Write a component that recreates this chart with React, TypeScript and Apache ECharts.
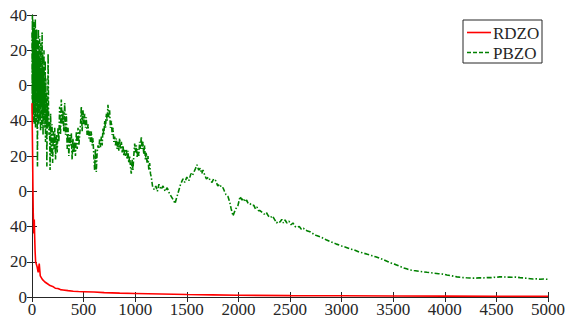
import React, { useEffect, useRef } from "react";
import * as echarts from "echarts";

const xTicks = [0, 500, 1000, 1500, 2000, 2500, 3000, 3500, 4000, 4500, 5000];
const yTickLabels = ["0", "20", "40", "0", "20", "40", "0", "20", "40"];
const seriesNames = ["RDZO", "PBZO"];

// RDZO: [iteration, value]
const rdzo: number[][] = [
  [0, 110], [3, 95], [6, 80], [9, 62], [12, 48], [15, 40], [18, 36], [22, 44], [26, 34], [30, 26],
  [35, 20], [40, 19], [50, 17], [60, 14], [70, 19], [80, 12], [100, 10], [125, 8.5], [150, 7.5],
  [175, 6.5], [200, 6], [225, 5], [250, 4.8], [275, 4.2], [300, 4], [350, 3.6], [400, 3.3], [450, 3.1],
  [500, 3], [600, 2.8], [700, 2.5], [850, 2.2], [1000, 2], [1250, 1.7], [1500, 1.4], [1750, 1.2],
  [2000, 1], [2500, 0.8], [3000, 0.7], [3500, 0.6], [4000, 0.5], [4500, 0.45], [5000, 0.4],
];

// PBZO, early noisy phase
const pbzoEarly: number[][] = [
  [0, 150], [2, 112], [4, 160], [6, 104], [8, 158], [10, 118], [12, 152], [14, 100], [16, 156], [18, 108],
  [20, 148], [22, 98], [24, 155], [26, 112], [28, 145], [30, 102], [32, 158], [34, 96], [36, 150], [38, 110],
  [40, 140], [42, 120], [44, 152], [46, 100], [48, 146], [50, 106], [53, 74], [56, 138], [59, 104], [62, 152],
  [65, 98], [68, 142], [71, 110], [74, 148], [77, 100], [80, 136], [83, 94], [86, 144], [89, 108], [92, 130],
  [95, 96], [98, 150], [101, 102], [104, 138], [107, 92], [110, 128], [113, 100], [116, 140], [119, 106],
  [122, 120], [125, 96], [128, 134], [131, 88], [134, 124], [137, 100], [140, 116], [144, 74], [148, 110],
  [152, 96], [156, 138], [160, 106], [165, 92], [170, 100], [175, 72], [180, 104], [187, 80], [194, 98],
  [200, 76], [207, 94], [214, 84], [220, 96],
];

// PBZO, 200-1200
const pbzoMid: number[][] = [
  [228, 78], [236, 92], [244, 82], [252, 96], [260, 88], [268, 108], [276, 92], [284, 112], [292, 98],
  [300, 106], [308, 94], [317, 110], [325, 92], [333, 104], [341, 84], [349, 96], [357, 80], [365, 92],
  [373, 86], [381, 93], [389, 78], [397, 90], [405, 82], [413, 88], [421, 80], [430, 94], [438, 84],
  [446, 96], [454, 86], [462, 92], [470, 98], [478, 108], [486, 94], [494, 106], [502, 98], [510, 104],
  [518, 96], [526, 102], [534, 92], [543, 98], [551, 90], [559, 94], [567, 88], [575, 94], [583, 86],
  [591, 90], [599, 80], [607, 72], [615, 84], [623, 71], [631, 82], [640, 86], [648, 84], [656, 90],
  [664, 85], [672, 91], [680, 86], [688, 96], [696, 92], [704, 100], [712, 96], [720, 104], [728, 100],
  [736, 109], [744, 102], [752, 106], [760, 96], [769, 100], [777, 92], [785, 96], [793, 88], [801, 91],
  [809, 86], [817, 90], [825, 84], [833, 88], [841, 83], [849, 90], [857, 84], [866, 88], [874, 82],
  [882, 86], [890, 80], [898, 84], [906, 80], [914, 84], [922, 78], [930, 83], [938, 76], [946, 80],
  [954, 74], [962, 70], [970, 78], [978, 72], [986, 80], [995, 87], [1003, 82], [1011, 86], [1019, 79],
  [1027, 84], [1035, 80], [1043, 88], [1051, 84], [1059, 91], [1067, 84], [1075, 88], [1083, 81],
  [1091, 86], [1099, 78], [1107, 82], [1115, 76], [1124, 80], [1132, 72], [1140, 76], [1148, 70],
  [1156, 68],
];

// PBZO, 1150-5000
const pbzoLate: number[][] = [
  [1170, 62], [1185, 61], [1200, 63], [1215, 60], [1230, 64], [1250, 61], [1270, 63], [1290, 60],
  [1310, 62], [1330, 59], [1350, 57], [1370, 55], [1386, 53], [1400, 56], [1420, 60], [1440, 64],
  [1463, 67], [1480, 65], [1500, 68], [1520, 66], [1540, 70], [1555, 69], [1570, 71], [1585, 73],
  [1599, 75], [1615, 72], [1630, 73], [1645, 70], [1657, 72], [1675, 69], [1690, 67], [1710, 68],
  [1728, 66], [1744, 65], [1760, 67], [1780, 66], [1800, 63], [1820, 64], [1835, 62], [1851, 62],
  [1865, 60], [1880, 58], [1899, 57], [1915, 54], [1930, 50], [1948, 46], [1960, 48], [1975, 50],
  [1996, 52], [2016, 57], [2035, 55], [2050, 56], [2065, 54], [2080, 55], [2095, 53], [2112, 53],
  [2130, 52], [2150, 52], [2165, 50], [2180, 51], [2195, 49], [2209, 49], [2230, 48], [2250, 47],
  [2270, 48], [2290, 46], [2310, 45], [2330, 46], [2350, 44], [2370, 42], [2385, 43], [2403, 42.5],
  [2420, 44], [2436, 42], [2452, 43.7], [2470, 42], [2490, 43], [2510, 41], [2529, 42], [2550, 40],
  [2568, 39.5], [2590, 40], [2610, 38.5], [2630, 39], [2645, 38], [2670, 37.5], [2694, 37], [2720, 36],
  [2750, 35], [2800, 34], [2850, 32.5], [2888, 31.5], [2950, 30], [3000, 29], [3052, 28], [3100, 27],
  [3130, 26.5], [3170, 25.5], [3207, 25], [3250, 24.2], [3290, 23.5], [3330, 22.8], [3372, 22],
  [3410, 21], [3450, 20], [3490, 19], [3520, 18.5], [3560, 17.5], [3600, 16.5], [3630, 16], [3663, 15.3],
  [3700, 15], [3750, 14.6], [3790, 14.3], [3828, 14], [3860, 13.8], [3900, 13.5], [3940, 13.2],
  [3983, 13], [4020, 12.5], [4050, 12.2], [4085, 11.8], [4118, 11.4], [4150, 11.2], [4180, 11],
  [4210, 10.9], [4244, 10.8], [4270, 10.7], [4300, 10.7], [4335, 10.9], [4370, 10.8], [4410, 11],
  [4450, 11], [4475, 11.2], [4500, 11.1], [4530, 11.4], [4564, 11.4], [4600, 11.3], [4650, 11.2],
  [4690, 11.3], [4729, 11], [4765, 10.8], [4800, 10.6], [4830, 10.4], [4855, 10.2], [4890, 10.3],
  [4920, 10.1], [4960, 10.2], [5000, 10],
];

const axisColor = "#262626";
const font = "Liberation Serif";

export default function App() {
  const ref = useRef<HTMLDivElement>(null);
  useEffect(() => {
    if (!ref.current) return;
    const chart = echarts.init(ref.current, undefined, { renderer: "svg" });
    const axisLine = { show: true, lineStyle: { color: axisColor, width: 1 } };
    const axisTick = { show: true, inside: true, length: 5, lineStyle: { color: axisColor } };
    const legendText = (i: number, y: number) => ({
      type: "text",
      x: 493,
      y,
      style: {
        text: seriesNames[i],
        fontFamily: font,
        fontSize: 17,
        fill: axisColor,
        verticalAlign: "middle",
      },
      z: 101,
    });
    chart.setOption({
      animation: false,
      grid: { left: 32, right: 20, top: 15, bottom: 25, containLabel: false },
      xAxis: [
        {
          type: "value",
          min: 0,
          max: 5000,
          interval: 500,
          axisLine,
          axisTick,
          splitLine: { show: false },
          axisLabel: {
            fontFamily: font,
            fontSize: 17,
            color: axisColor,
            margin: 4,
            formatter: (v: number) => (xTicks.includes(v) ? String(v) : ""),
          },
        },
        {
          type: "value",
          position: "top",
          min: 0,
          max: 5000,
          interval: 500,
          axisLine,
          axisTick,
          splitLine: { show: false },
          axisLabel: { show: false },
        },
      ],
      yAxis: [
        {
          type: "value",
          min: 0,
          max: 160,
          interval: 20,
          axisLine,
          axisTick,
          splitLine: { show: false },
          axisLabel: {
            fontFamily: font,
            fontSize: 17,
            color: axisColor,
            margin: 5,
            formatter: (v: number) => yTickLabels[Math.round(v / 20)] ?? "",
          },
        },
        {
          type: "value",
          position: "right",
          min: 0,
          max: 160,
          interval: 20,
          axisLine,
          axisTick,
          splitLine: { show: false },
          axisLabel: { show: false },
        },
      ],
      graphic: [
        {
          type: "rect",
          shape: { x: 463, y: 20, width: 79, height: 43 },
          style: { fill: "#fff", stroke: axisColor, lineWidth: 1 },
          z: 100,
        },
        {
          type: "line",
          shape: { x1: 467, y1: 32.5, x2: 491, y2: 32.5 },
          style: { stroke: "#ff0000", lineWidth: 1.6 },
          z: 101,
        },
        {
          type: "line",
          shape: { x1: 467, y1: 52.5, x2: 491, y2: 52.5 },
          style: { stroke: "#008000", lineWidth: 1.6, lineDash: [4, 2] },
          z: 101,
        },
        legendText(0, 33),
        legendText(1, 53),
      ],
      series: [
        {
          name: seriesNames[0],
          type: "line",
          symbol: "none",
          data: rdzo,
          lineStyle: { color: "#ff0000", width: 1.6 },
          itemStyle: { color: "#ff0000" },
          z: 3,
        },
        {
          name: seriesNames[1],
          type: "line",
          symbol: "none",
          data: [...pbzoEarly, ...pbzoMid, ...pbzoLate],
          lineStyle: { color: "#008000", width: 1.6, type: [5, 2, 1.5, 2] },
          itemStyle: { color: "#008000" },
          z: 2,
        },
      ],
    });
    return () => chart.dispose();
  }, []);
  return (
    <div
      ref={ref}
      style={{ position: "fixed", left: 0, top: 0, width: 568, height: 322, background: "#fff" }}
    />
  );
}
